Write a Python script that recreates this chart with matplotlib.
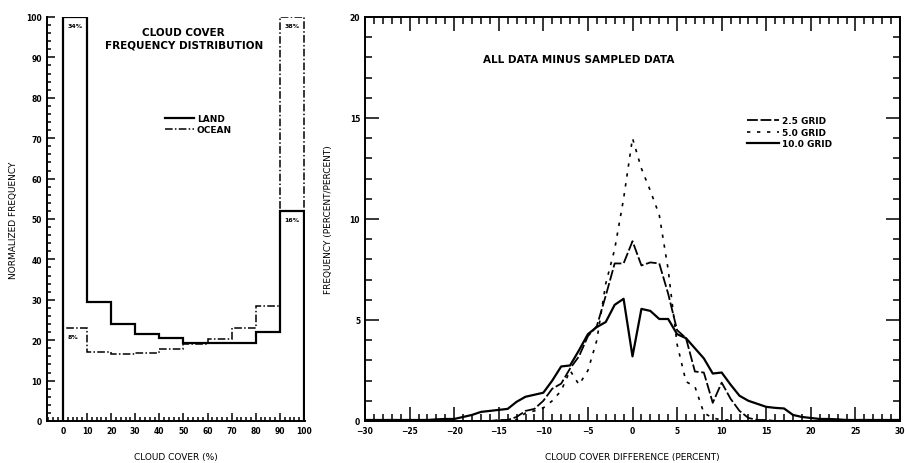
import numpy as np
import matplotlib
matplotlib.use("Agg")
import matplotlib.pyplot as plt
from matplotlib.ticker import MultipleLocator

plt.rcParams['font.family'] = ['Liberation Sans Narrow', 'DejaVu Sans']
plt.rcParams['font.weight'] = 'bold'

# left panel: cloud cover histogram (normalized)
bin_edges = [0, 10, 20, 30, 40, 50, 60, 70, 80, 90, 100]
land = [100, 29.5, 24.0, 21.5, 20.5, 19.3, 19.3, 19.3, 22.0, 52.0]
ocean = [23.0, 17.0, 16.5, 16.8, 17.8, 19.0, 20.3, 23.0, 28.5, 100]
bar_notes = ["34%", "8%", "16%", "38%"]

# right panel: difference distributions
diff = list(range(-30, 31))
grid_10 = [0.05, 0.05, 0.05, 0.05, 0.05, 0.05, 0.05, 0.05, 0.08, 0.1,
           0.1, 0.2, 0.3, 0.45, 0.5, 0.55, 0.6, 0.95, 1.2, 1.3,
           1.4, 2.0, 2.7, 2.75, 3.5, 4.3, 4.65, 4.9, 5.75, 6.05,
           3.2, 5.55, 5.45, 5.05, 5.05, 4.3, 4.1, 3.6, 3.1, 2.35,
           2.4, 1.8, 1.25, 1.0, 0.85, 0.7, 0.65, 0.62, 0.3, 0.2,
           0.15, 0.1, 0.1, 0.08, 0.05, 0.05, 0.05, 0.05, 0.05, 0.05, 0.05]
grid_25 = [0.0, 0.0, 0.0, 0.0, 0.0, 0.0, 0.0, 0.0, 0.0, 0.0,
           0.0, 0.0, 0.0, 0.0, 0.0, 0.05, 0.05, 0.2, 0.5, 0.6,
           1.0, 1.6, 1.85, 2.6, 3.2, 4.2, 4.7, 6.2, 7.8, 7.8,
           8.9, 7.7, 7.85, 7.8, 6.3, 4.5, 4.1, 2.45, 2.4, 0.9,
           1.9, 1.1, 0.5, 0.15, 0.05, 0.05, 0.0, 0.0, 0.0, 0.0,
           0.0, 0.0, 0.0, 0.0, 0.0, 0.0, 0.0, 0.0, 0.0, 0.0, 0.0]
grid_50 = [0.0, 0.0, 0.0, 0.0, 0.0, 0.0, 0.0, 0.0, 0.0, 0.0,
           0.0, 0.0, 0.0, 0.0, 0.0, 0.0, 0.05, 0.05, 0.4, 0.5,
           0.65, 1.0, 1.5, 2.5, 1.8, 2.5, 4.0, 6.8, 8.5, 11.0,
           14.0, 12.5, 11.4, 10.2, 7.5, 3.8, 1.95, 1.7, 0.4, 0.15,
           0.05, 0.05, 0.0, 0.0, 0.0, 0.0, 0.0, 0.0, 0.0, 0.0,
           0.0, 0.0, 0.0, 0.0, 0.0, 0.0, 0.0, 0.0, 0.0, 0.0, 0.0]

W, H = 905, 464
fig = plt.figure(figsize=(W / 100, H / 100), dpi=100)


def box(x0, y0, x1, y1):
    return [x0 / W, 1 - y1 / H, (x1 - x0) / W, (y1 - y0) / H]


fs = 6.5

# ---- left panel ----
ax1 = fig.add_axes(box(47, 18, 305, 422))
ax1.stairs(land, bin_edges, baseline=0, color='black', lw=1.6, label='LAND')
ax1.stairs(ocean, bin_edges, baseline=0, color='black', lw=1.1,
           linestyle=(0, (5, 1.5, 1, 1.5)), label='OCEAN')
ax1.set_xlim(-6.6, 100.4)
ax1.set_ylim(0, 100)
ax1.spines['top'].set_visible(False)
ax1.spines['right'].set_visible(False)
for s in ax1.spines.values():
    s.set_linewidth(1.4)
ax1.xaxis.set_major_locator(MultipleLocator(10))
ax1.xaxis.set_minor_locator(MultipleLocator(2))
ax1.yaxis.set_major_locator(MultipleLocator(10))
ax1.yaxis.set_minor_locator(MultipleLocator(2))
ax1.tick_params(which='both', direction='in', labelsize=fs - 1, width=1.1)
ax1.tick_params(which='major', length=6)
ax1.tick_params(which='minor', length=3)
ax1.set_xlabel('CLOUD COVER (%)', fontsize=fs, labelpad=12)
ax1.set_ylabel('NORMALIZED FREQUENCY', fontsize=fs, labelpad=6)
ax1.text(0.53, 0.975, 'CLOUD COVER\nFREQUENCY DISTRIBUTION', transform=ax1.transAxes,
         ha='center', va='top', fontsize=fs + 1, linespacing=1.3)
ax1.legend(loc='upper left', bbox_to_anchor=(0.44, 0.77), frameon=False,
           fontsize=fs, handlelength=3.2, handletextpad=0.3, labelspacing=0.2,
           borderpad=0)
ax1.text(5, land[0] - 1.5, bar_notes[0], ha='center', va='top', fontsize=fs - 2)
ax1.text(4, ocean[0] - 1.5, bar_notes[1], ha='center', va='top', fontsize=fs - 2)
ax1.text(95, land[-1] - 1.5, bar_notes[2], ha='center', va='top', fontsize=fs - 2)
ax1.text(95, ocean[-1] - 1.5, bar_notes[3], ha='center', va='top', fontsize=fs - 2)

# ---- right panel ----
ax2 = fig.add_axes(box(365, 18, 900, 422))
ax2.plot(diff, grid_25, color='black', lw=1.3, linestyle=(0, (6, 1.5)), label='2.5 GRID')
ax2.plot(diff, grid_50, color='black', lw=1.2, linestyle=(0, (2, 4)), label='5.0 GRID')
ax2.plot(diff, grid_10, color='black', lw=1.6, label='10.0 GRID')
ax2.set_xlim(-30, 30)
ax2.set_ylim(0, 20)
for s in ax2.spines.values():
    s.set_linewidth(1.4)
ax2.xaxis.set_major_locator(MultipleLocator(5))
ax2.xaxis.set_minor_locator(MultipleLocator(1))
ax2.yaxis.set_major_locator(MultipleLocator(5))
ax2.yaxis.set_minor_locator(MultipleLocator(1))
ax2.tick_params(which='both', direction='in', top=True, right=True,
                labelsize=fs - 1, width=1.1)
ax2.tick_params(which='major', length=10)
ax2.tick_params(which='minor', length=5)
ax2.set_xlabel('CLOUD COVER DIFFERENCE (PERCENT)', fontsize=fs, labelpad=12)
ax2.set_ylabel('FREQUENCY (PERCENT/PERCENT)', fontsize=fs, labelpad=12)
ax2.text(0.40, 0.895, 'ALL DATA MINUS SAMPLED DATA', transform=ax2.transAxes,
         ha='center', va='center', fontsize=fs + 1)
ax2.legend(loc='upper left', bbox_to_anchor=(0.705, 0.765), frameon=False,
           fontsize=fs, handlelength=3.6, handletextpad=0.3, labelspacing=0.25,
           borderpad=0)

fig.savefig('out.png', dpi=100)
